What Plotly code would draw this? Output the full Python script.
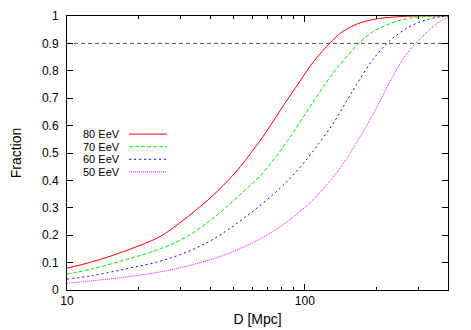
import plotly.graph_objects as go

# values (D in Mpc, cumulative fraction)
d_80 = [10, 12.9, 17.9, 24.6, 29.8, 35.2, 41.1, 50, 57, 69.2, 80.8, 95, 108, 121, 127, 140, 150, 165, 193, 243, 300, 400]
f_80 = [0.080, 0.104, 0.145, 0.195, 0.245, 0.295, 0.345, 0.42, 0.48, 0.58, 0.67, 0.76, 0.83, 0.88, 0.90, 0.935, 0.952, 0.970, 0.987, 0.997, 1.0, 1.0]

d_70 = [10, 12.9, 17.9, 24.6, 32.2, 41.1, 50, 57, 64.7, 80.8, 95, 112, 131, 140, 155, 166, 193, 228, 268, 313, 360, 400]
f_70 = [0.058, 0.078, 0.112, 0.150, 0.197, 0.262, 0.325, 0.37, 0.415, 0.52, 0.61, 0.705, 0.79, 0.822, 0.865, 0.895, 0.942, 0.972, 0.99, 0.997, 1.0, 1.0]

d_60 = [10, 12.9, 17.9, 24.6, 32.2, 41.1, 57, 78.4, 88.2, 102.6, 112.3, 131, 150, 165, 193, 225, 268, 313, 370, 400]
f_60 = [0.040, 0.053, 0.078, 0.105, 0.14, 0.185, 0.27, 0.37, 0.415, 0.48, 0.525, 0.605, 0.69, 0.75, 0.84, 0.905, 0.955, 0.982, 0.997, 1.0]

d_50 = [10, 12.9, 17.9, 24.6, 32.2, 45, 62.8, 78.4, 95, 110, 131, 150, 167, 193, 206, 228, 260, 296, 335, 370, 400]
f_50 = [0.025, 0.034, 0.048, 0.066, 0.088, 0.125, 0.18, 0.23, 0.285, 0.335, 0.41, 0.48, 0.545, 0.64, 0.685, 0.76, 0.845, 0.905, 0.95, 0.98, 0.995]

labels = ["80 EeV", "70 EeV", "60 EeV", "50 EeV"]
colors = ["#ff0000", "#00ee00", "#0000ff", "#ff00ff"]
dashes = ["solid", "4px,2px", "2px,3px", "1px,1px"]
series = [(d_80, f_80), (d_70, f_70), (d_60, f_60), (d_50, f_50)]

fig = go.Figure()
for (d, f), name, col, dash in zip(series, labels, colors, dashes):
    fig.add_trace(go.Scatter(x=d, y=f, mode="lines", name=name,
                             line=dict(color=col, width=1, dash=dash, shape="spline", smoothing=1.0),
                             showlegend=False))

# 90% reference line
fig.add_shape(type="line", xref="paper", yref="y", x0=0, x1=1, y0=0.9, y1=0.9,
              line=dict(color="#555555", width=1, dash="4px,3px"), layer="below")

# gnuplot-style key: text on the left, sample line on the right
key_y = [0.569, 0.523, 0.477, 0.431]
for name, col, dash, ky in zip(labels, colors, dashes, key_y):
    fig.add_annotation(xref="paper", yref="paper", x=0.145, y=ky, text=name,
                       showarrow=False, xanchor="right", yanchor="middle",
                       font=dict(size=11, color="black"))
    fig.add_shape(type="line", xref="paper", yref="paper", x0=0.163, x1=0.262, y0=ky, y1=ky,
                  line=dict(color=col, width=1, dash=dash))

# page body adds an 8px offset, margins compensate for it
fig.update_layout(
    width=471, height=330,
    margin=dict(l=59, r=31, t=8, b=48),
    paper_bgcolor="white", plot_bgcolor="white",
    font=dict(family="Liberation Sans, Arial, sans-serif", size=12, color="black"),
)
fig.update_xaxes(
    type="log", range=[1, 2.6021], automargin=False,
    tickvals=[10, 100], ticktext=["10", "100"],
    ticks="inside", ticklen=6, tickcolor="black",
    minor=dict(tickvals=[20, 30, 40, 50, 60, 70, 80, 90, 200, 300],
               ticks="inside", ticklen=3, tickcolor="black"),
    showline=True, linecolor="black", linewidth=1, mirror="ticks",
    showgrid=False, zeroline=False,
    title=dict(text="D [Mpc]", standoff=6),
)
fig.update_yaxes(
    range=[0, 1], automargin=False,
    tickvals=[0, 0.1, 0.2, 0.3, 0.4, 0.5, 0.6, 0.7, 0.8, 0.9, 1],
    ticktext=["0", "0.1", "0.2", "0.3", "0.4", "0.5", "0.6", "0.7", "0.8", "0.9", "1"],
    ticks="inside", ticklen=6, tickcolor="black", ticklabelstandoff=5,
    showline=True, linecolor="black", linewidth=1, mirror="ticks",
    showgrid=False, zeroline=False,
    title=dict(text="Fraction", standoff=22),
)

fig.write_html("out.html")
